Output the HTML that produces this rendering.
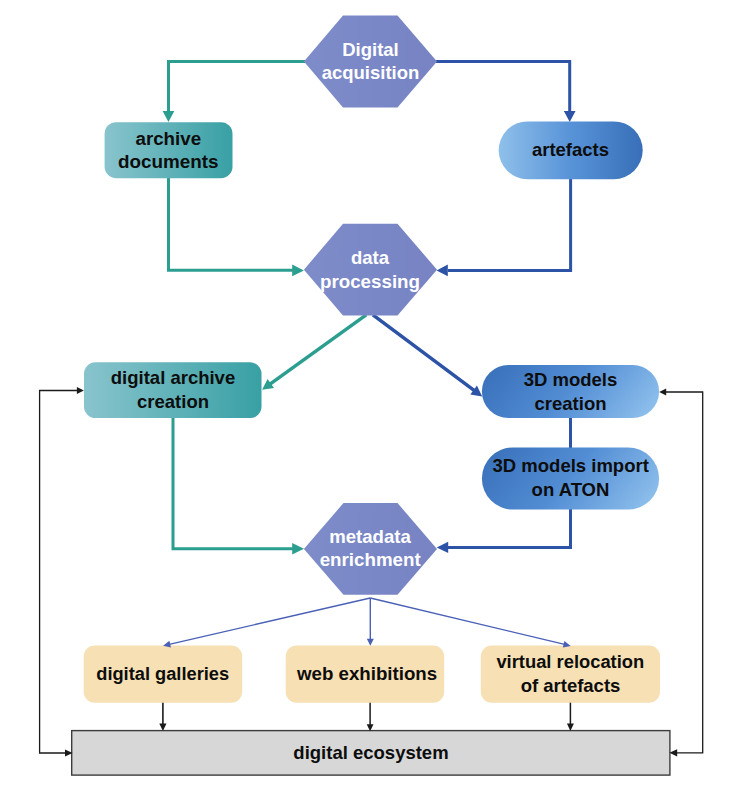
<!DOCTYPE html>
<html><head><meta charset="utf-8">
<style>
html,body{margin:0;padding:0;background:#fff;}
body{width:743px;height:800px;overflow:hidden;}
svg{display:block;}
text{font-family:"Liberation Sans",sans-serif;font-weight:bold;font-size:18.5px;text-anchor:middle;}
.w{fill:#fff;}
.k{fill:#0d0d0d;}
</style></head><body>
<svg width="743" height="800" viewBox="0 0 743 800">
<defs>
<linearGradient id="gt" x1="0" y1="0" x2="1" y2="0"><stop offset="0" stop-color="#89c4cd"/><stop offset="1" stop-color="#38a0a4"/></linearGradient>
<linearGradient id="gb" x1="0" y1="0" x2="1" y2="0"><stop offset="0" stop-color="#8fc0ea"/><stop offset="0.5" stop-color="#5893d8"/><stop offset="1" stop-color="#386fb8"/></linearGradient>
<linearGradient id="gb2" gradientUnits="userSpaceOnUse" x1="482" y1="365" x2="612" y2="470"><stop offset="0" stop-color="#376fb8"/><stop offset="0.5" stop-color="#528dd4"/><stop offset="1" stop-color="#92c3ee"/></linearGradient>
<linearGradient id="gb3" gradientUnits="userSpaceOnUse" x1="482" y1="447.4" x2="616" y2="556"><stop offset="0" stop-color="#376fb8"/><stop offset="0.5" stop-color="#528dd4"/><stop offset="1" stop-color="#92c3ee"/></linearGradient>
<linearGradient id="gh" gradientUnits="userSpaceOnUse" x1="304" y1="0" x2="437" y2="0"><stop offset="0" stop-color="#7e8cca"/><stop offset="1" stop-color="#7783c3"/></linearGradient>
</defs>
<rect width="743" height="800" fill="#fff"/>

<!-- teal lines -->
<g stroke="#2b9e8f" stroke-width="3" fill="none">
<polyline points="305,61.4 168.5,61.4 168.5,112"/>
<polyline points="168.5,178 168.5,270.3 293,270.3"/>
<line x1="366.2" y1="314.9" x2="270.0" y2="384.1" stroke-width="3.5"/>
<polyline points="173,418 173,548.7 293,548.7"/>
</g>
<g fill="#2b9e8f">
<polygon points="162.6,111 174.3,111 168.45,121.9"/>
<polygon points="292.2,264.6 292.2,276.2 303.9,270.4"/>
<polygon points="292.2,543.0 292.2,554.4 303.9,548.7"/>
<polygon points="262.1,389.8 267.6,379.1 274.0,388.0"/>
</g>

<!-- blue lines -->
<g stroke="#2d53a6" stroke-width="3" fill="none">
<polyline points="436,61.4 569.7,61.4 569.7,112"/>
<polyline points="570.6,179 570.6,270.4 448,270.4"/>
<line x1="372.9" y1="314.9" x2="474.4" y2="390.6" stroke-width="3.5"/>
<line x1="570.5" y1="418" x2="570.5" y2="448"/>
<polyline points="570.5,509 570.5,547.4 448,547.4"/>
</g>
<g fill="#2d53a6">
<polygon points="563.85,111 575.55,111 569.7,121.9"/>
<polygon points="447.8,264.6 447.8,276.2 436.6,270.4"/>
<polygon points="448.2,541.7 448.2,553.1 436.7,547.4"/>
<polygon points="482.2,396.4 470.3,394.4 476.9,385.6"/>
</g>

<!-- hexagons -->
<g fill="url(#gh)">
<polygon points="303.9,61.5 343,15.5 397.5,15.5 437,61.5 397.5,107.5 343,107.5"/>
<polygon points="303.9,269.7 343,223.7 397.5,223.7 437,269.7 397.5,315.5 343,315.5"/>
<polygon points="303.9,548.9 343.5,503 397.5,503 437,548.9 397.5,594.8 343.5,594.8"/>
</g>

<!-- teal boxes -->
<rect x="104.6" y="122.2" width="127.9" height="56" rx="11.5" fill="url(#gt)"/>
<rect x="84.0" y="362.3" width="177.5" height="55.8" rx="11.5" fill="url(#gt)"/>

<!-- blue pills -->
<rect x="498.7" y="121.4" width="144" height="57.8" rx="28.9" fill="url(#gb)"/>
<rect x="481.9" y="365" width="177.2" height="53" rx="26.5" fill="url(#gb2)"/>
<rect x="481.9" y="447.4" width="177.2" height="62.2" rx="31.1" fill="url(#gb3)"/>

<!-- wheat boxes -->
<g fill="#f6e0b4">
<rect x="83.7" y="645.5" width="158.5" height="57.2" rx="11"/>
<rect x="285.7" y="645.5" width="158.5" height="57.2" rx="11"/>
<rect x="480.8" y="645.5" width="179.2" height="57.2" rx="11"/>
</g>

<!-- thin blue arrows -->
<g stroke="#4960b6" stroke-width="1.4" fill="none">
<line x1="370.3" y1="598" x2="169.2" y2="644.4"/>
<line x1="370.3" y1="598" x2="370.3" y2="640"/>
<line x1="370.3" y1="598" x2="564.6" y2="644.4"/>
</g>
<g fill="#4960b6">
<polygon points="163.1,645.8 169.4,640.8 171.0,647.5"/>
<polygon points="370.3,645.8 366.8,638.8 373.8,638.8"/>
<polygon points="570.7,645.9 562.8,647.5 564.4,640.9"/>
</g>

<!-- grey box -->
<rect x="71.7" y="730.6" width="598.2" height="44.5" fill="#d7d7d7" stroke="#3c3c3c" stroke-width="1.4"/>

<!-- black lines -->
<g stroke="#1a1a1a" stroke-width="1.3" fill="none">
<polyline points="78,390.5 39.6,390.5 39.6,753 65,753"/>
<polyline points="666,392 702.7,392 702.7,752.8 677,752.8"/>
<line x1="162.9" y1="702.7" x2="162.9" y2="725" stroke-width="1.6"/>
<line x1="370.1" y1="702.7" x2="370.1" y2="725" stroke-width="1.5"/>
<line x1="570.4" y1="702.7" x2="570.4" y2="725" stroke-width="1.5"/>
</g>
<g fill="#1a1a1a">
<polygon points="83.9,390.5 76.9,386.9 76.9,394.1"/>
<polygon points="72.6,753 65,749.4 65,756.6"/>
<polygon points="659.2,392 666.2,388.4 666.2,395.6"/>
<polygon points="669.4,752.8 677.2,749.2 677.2,756.4"/>
<polygon points="162.9,731 159.3,723.4 166.5,723.4"/>
<polygon points="370.1,731.2 366.7,724.2 373.5,724.2"/>
<polygon points="570.4,731 566.9,723.4 573.9,723.4"/>
</g>

<!-- text -->
<text class="w" x="370.5" y="55.5">Digital</text>
<text class="w" x="370.5" y="79.3">acquisition</text>
<text class="w" x="370" y="264">data</text>
<text class="w" x="370" y="288" style="font-size:18.75px">processing</text>
<text class="w" x="370" y="543" style="font-size:18.6px">metadata</text>
<text class="w" x="370.2" y="566" style="font-size:18.75px">enrichment</text>

<text class="k" x="168.3" y="144.5" style="font-size:18.75px">archive</text>
<text class="k" x="168.3" y="167.5" style="font-size:18.85px">documents</text>
<text class="k" x="570.5" y="156.1">artefacts</text>
<text class="k" x="173" y="384.1">digital archive</text>
<text class="k" x="173" y="408">creation</text>
<text class="k" x="570.5" y="386">3D models</text>
<text class="k" x="570.5" y="409.5">creation</text>
<text class="k" x="570.7" y="472.1">3D models import</text>
<text class="k" x="570.5" y="496">on ATON</text>
<text class="k" x="162.7" y="680" style="font-size:18.25px">digital galleries</text>
<text class="k" x="367.1" y="680" style="font-size:18.7px">web exhibitions</text>
<text class="k" x="570.3" y="668" style="font-size:18.35px">virtual relocation</text>
<text class="k" x="570.5" y="691.5">of artefacts</text>
<text class="k" x="371" y="758.5">digital ecosystem</text>
</svg>
</body></html>
